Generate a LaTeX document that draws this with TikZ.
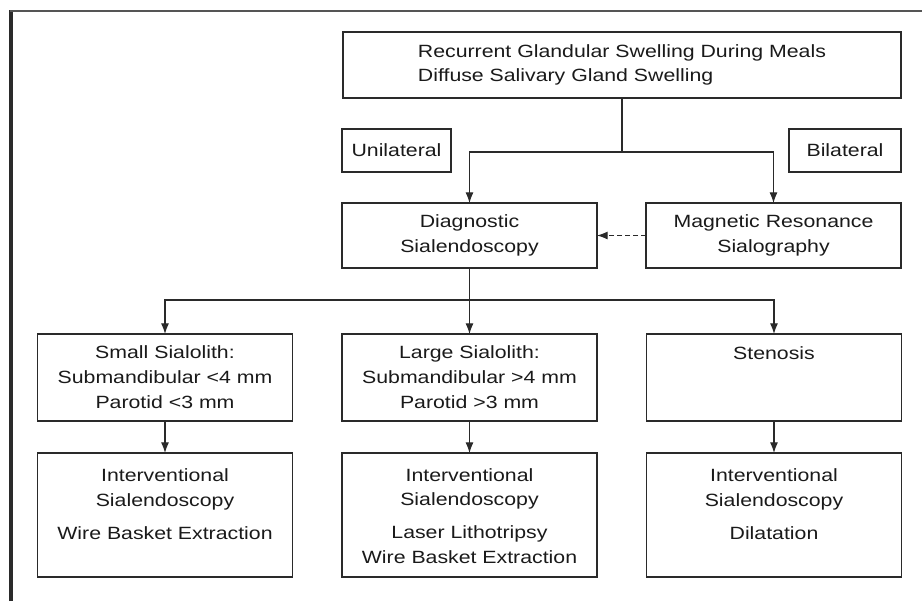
\documentclass[tikz,border=0pt]{standalone}
\usepackage{fontspec}
\setmainfont{Liberation Sans}[FakeStretch=1.2]
\usetikzlibrary{arrows.meta}
\definecolor{ink}{HTML}{1A1A1A}
\definecolor{linec}{HTML}{2A2A2A}
\begin{document}
\begin{tikzpicture}[x=0.75pt,y=-0.75pt,
  font=\fontsize{13.3}{18.4}\selectfont, text=ink,
  box/.style={draw=linec, line width=1.2pt, inner sep=0pt, outer sep=0pt, align=center},
  txt/.style={inner sep=0pt, align=center, anchor=base},
  arr/.style={draw=linec, line width=0.9pt, -{Latex[length=8pt,width=6pt]}},
  conn/.style={draw=linec, line width=0.9pt}]
\useasboundingbox (0,0) rectangle (922,601);
\fill[white] (0,0) rectangle (922,601);
% frame
\draw[linec, line width=2.4pt] (11,601) -- (11,10.2);
\draw[linec!80, line width=1.6pt] (10,11) -- (922,11);
% top
\node[box, minimum width=418.5pt, minimum height=49.5pt, align=left] (top) at (622,65)
  {Recurrent Glandular Swelling During Meals\\Diffuse Salivary Gland Swelling};
\node[box, minimum width=81.75pt, minimum height=32.25pt] (uni) at (396.5,150.5) {Unilateral};
\node[box, minimum width=84pt, minimum height=32.25pt] (bi) at (845,150.5) {Bilateral};
\node[box, minimum width=191.25pt, minimum height=48.75pt] (diag) at (469.5,235.5) {Diagnostic\\Sialendoscopy};
\node[box, minimum width=191.25pt, minimum height=48.75pt] (mrs) at (773.5,235.5) {Magnetic Resonance\\Sialography};
% row 3
\node[box, minimum width=191.5pt, minimum height=65.25pt] (s1) at (165,377.5) {};
\node[box, minimum width=191.5pt, minimum height=65.25pt] (s2) at (469.5,377.5) {};
\node[box, minimum width=191.5pt, minimum height=65.25pt] (s3) at (774,377.5) {};
\node[txt] (s1t) at (165,408) {Small Sialolith:\\Submandibular <4 mm\\Parotid <3 mm};
\node[txt] (s2t) at (469.5,408) {Large Sialolith:\\Submandibular >4 mm\\Parotid >3 mm};
\node[txt] (s3t) at (774,359) {Stenosis};
% row 4
\node[box, minimum width=191.5pt, minimum height=93pt] (i1) at (165,515) {};
\node[box, minimum width=191.5pt, minimum height=93pt] (i2) at (469.5,515) {};
\node[box, minimum width=191.5pt, minimum height=93pt] (i3) at (774,515) {};
\node[txt] (i1t) at (165,539) {Interventional\\Sialendoscopy\\[6pt]Wire Basket Extraction};
\node[txt] (i2t) at (469.5,563) {Interventional\\Sialendoscopy\\[6pt]Laser Lithotripsy\\Wire Basket Extraction};
\node[txt] (i3t) at (774,539) {Interventional\\Sialendoscopy\\[6pt]Dilatation};
% connectors
\coordinate (j1) at (622,152);
\draw[conn] (top.south) -- (j1);
\draw[arr] (j1) -| (diag.north);
\draw[arr] (j1) -| (mrs.north);
\draw[arr, dash pattern=on 3.5pt off 2.5pt] (mrs.west) -- (diag.east);
\coordinate (j2) at (469.5,300);
\draw[conn] (diag.south) -- (j2);
\draw[arr] (j2) -| (s1.north);
\draw[arr] (j2) -- (s2.north);
\draw[arr] (j2) -| (s3.north);
\draw[arr] (s1) -- (i1);
\draw[arr] (s2) -- (i2);
\draw[arr] (s3) -- (i3);
\end{tikzpicture}
\end{document}
